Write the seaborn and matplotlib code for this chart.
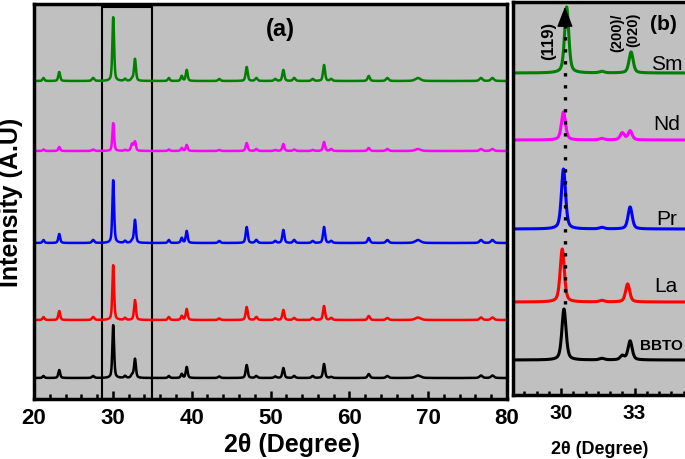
import numpy as np
import pandas as pd
import matplotlib.pyplot as plt
import seaborn as sns

# Samples, bottom to top.
samples = ["BBTO", "La", "Pr", "Nd", "Sm"]
colors = ["black", "red", "blue", "magenta", "green"]

# Vertical offsets of each stacked pattern.
offset_full = [21, 79, 156, 248, 318]
offset_zoom = [35, 93, 166, 255, 322]

# Panel (a): reflections (2theta, HWHM).
peak_pos = [21.2, 23.2, 27.5, 30.05, 31.55, 32.45, 32.81, 37.1, 38.74, 39.37,
            43.5, 46.98, 48.2, 50.6, 51.63, 53.0, 55.35, 56.79, 57.7, 62.46,
            64.82, 68.7, 76.7, 78.15]
peak_hwhm = [0.14, 0.14, 0.17, 0.13, 0.14, 0.17, 0.14, 0.14, 0.14, 0.14,
             0.17, 0.15, 0.17, 0.17, 0.15, 0.17, 0.17, 0.15, 0.17, 0.17,
             0.2, 0.4, 0.22, 0.22]
heights_full = {
    "BBTO": [2, 8, 2, 53, 2, 3, 19, 2, 4, 11, 1.5, 13, 2, 1.5, 10, 2, 2, 14,
             1, 4, 2, 2.5, 2.5, 2.5],
    "La": [3, 9, 3, 55, 2, 0, 20, 3, 4, 11, 1.5, 13, 3, 1.5, 10, 2, 2, 14,
           2, 4, 2, 2.5, 2.5, 2.5],
    "Pr": [3, 9, 3, 63, 2, 2, 23, 3, 5, 12, 2, 16, 3, 2, 13, 3, 2, 16,
           2, 5, 3, 3, 3, 3],
    "Nd": [1.5, 4, 1.5, 28, 1, 7, 9, 1.5, 3, 6, 1, 8, 2, 1, 7, 1.5, 1, 9,
           2, 3, 2, 2, 2, 2],
    "Sm": [3, 9, 3, 64, 2, 2, 22, 3, 5, 11, 2, 14, 3, 2, 11, 3, 2, 16,
           2, 5, 3, 3, 3, 3],
}

# Panel (b): the 28-35 degree window.
main_pos = [30.12, 30.05, 30.1, 30.1, 30.23]
main_h = [51, 53, 60, 28, 66]
second_pos = [32.82, 32.72, 32.82, 32.82, 32.86]
second_h = [19, 18, 22, 9, 21]
shoulder_pos = 32.5
shoulder_h = [4, 0, 0, 7, 0]
bump_pos = 31.67
bump_h = [1.5, 1.5, 1.5, 1.5, 1.5]

label_y = [50, 110, 176, 272, 332]


def profile(x, pos, height, hwhm):
    """Pseudo-Voigt sum of the read-off reflections."""
    y = np.zeros_like(x)
    for p, h, w in zip(pos, height, hwhm):
        d = (x - p) / w
        y += h * (0.5 / (1 + d ** 2) + 0.5 * np.exp(-np.log(2) * d ** 2))
    return y


x_full = np.arange(20, 80.001, 0.02)
x_zoom = np.arange(28.0, 35.5, 0.005)

rows_full, rows_zoom = [], []
for i, s in enumerate(samples):
    y = offset_full[i] + profile(x_full, peak_pos, heights_full[s], peak_hwhm)
    rows_full.append(pd.DataFrame({"two_theta": x_full, "intensity": y,
                                   "sample": s}))
    y = offset_zoom[i] + profile(
        x_zoom,
        [main_pos[i], shoulder_pos, second_pos[i], bump_pos],
        [main_h[i], shoulder_h[i], second_h[i], bump_h[i]],
        [0.1, 0.1, 0.1, 0.12],
    )
    rows_zoom.append(pd.DataFrame({"two_theta": x_zoom, "intensity": y,
                                   "sample": s}))
df_full = pd.concat(rows_full, ignore_index=True)
df_zoom = pd.concat(rows_zoom, ignore_index=True)

sns.set_theme(style="ticks", rc={"text.color": "black",
                                 "axes.labelcolor": "black",
                                 "xtick.color": "black",
                                 "ytick.color": "black"})
plt.rcParams["font.family"] = ["Liberation Sans", "DejaVu Sans"]

palette = dict(zip(samples, colors))
fig = plt.figure(figsize=(6.85, 4.6), dpi=100)
ax = fig.add_axes([34 / 685, 60 / 460, 473 / 685, 395 / 460])
ax2 = fig.add_axes([513 / 685, 64 / 460, 178 / 685, 393 / 460])

for axis in (ax, ax2):
    axis.set_facecolor("#C0C0C0")
    for sp in axis.spines.values():
        sp.set_linewidth(2.5)
        sp.set_color("black")

# Panel (a)
sns.lineplot(data=df_full, x="two_theta", y="intensity", hue="sample",
             palette=palette, estimator=None, sort=False, legend=False,
             linewidth=1.8, ax=ax)
ax.set_xlim(20, 80)
ax.set_ylim(0, 395)
ax.set_xticks(range(20, 81, 10))
ax.set_xticks(range(20, 81, 2), minor=True)
ax.set_yticks([])
ax.tick_params(axis="x", which="both", direction="in", width=1.8,
               labelsize=16, pad=6, colors="black")
ax.tick_params(axis="x", which="major", length=5.5)
ax.tick_params(axis="x", which="minor", length=3.5)
for lab in ax.get_xticklabels():
    lab.set_fontweight("bold")
ax.axvspan(28.6, 34.93, ymin=0, ymax=0.992, fill=False, edgecolor="black",
           linewidth=1.5)
ax.text(51.2, 370, "(a)", fontsize=17, fontweight="bold",
        ha="center", va="center")
ax.set_xlabel("2θ (Degree)", fontsize=18, fontweight="bold")
ax.xaxis.set_label_coords(0.545, -0.083)
ax.set_ylabel("Intensity (A.U)", fontsize=18, fontweight="bold")
ax.yaxis.set_label_coords(-0.023, 0.5)

# Panel (b)
sns.lineplot(data=df_zoom, x="two_theta", y="intensity", hue="sample",
             palette=palette, estimator=None, sort=False, legend=False,
             linewidth=2.2, ax=ax2)
ax2.set_xlim(28.04, 28.04 + 178 / 24.5)
ax2.set_ylim(0, 393)
ax2.set_xticks([30, 33])
ax2.set_xticks(np.arange(28.5, 35.5, 0.5), minor=True)
ax2.set_yticks([])
ax2.set_ylabel("")
ax2.tick_params(axis="x", which="both", direction="in", width=1.8,
                labelsize=15, pad=6, colors="black")
ax2.tick_params(axis="x", which="major", length=5)
ax2.tick_params(axis="x", which="minor", length=3)
for lab in ax2.get_xticklabels():
    lab.set_fontweight("bold")
ax2.spines["right"].set_visible(False)
ax2.set_xlabel("2θ (Degree)", fontsize=13, fontweight="bold")
ax2.xaxis.set_label_coords(0.489, -0.114)

# Dotted guide with arrow head over the (119) reflection.
ax2.plot([30.16, 30.16], [91, 372], color="black", linewidth=2.4,
         linestyle=(0, (1, 2.6)))
ax2.annotate("", xy=(30.16, 391), xytext=(30.16, 372),
             arrowprops=dict(arrowstyle="-|>,head_length=0.9,head_width=0.35",
                             color="black", lw=1, mutation_scale=14))

for i, s in enumerate(samples):
    if s == "BBTO":
        ax2.text(33.22, label_y[i], s, fontsize=11, fontweight="bold",
                 ha="left", va="center")
    else:
        ax2.text(34.3, label_y[i], s, fontsize=15, ha="center", va="center")

ax2.text(29.51, 355, "(119)", fontsize=12, fontweight="bold", rotation=90,
         ha="center", va="center")
ax2.text(32.61, 383, "(200)/\n(020)", fontsize=10.5, fontweight="bold",
         rotation=90, ha="center", va="top", multialignment="right",
         linespacing=1.15)
ax2.text(34.2, 372, "(b)", fontsize=15, fontweight="bold",
         ha="center", va="center")

fig.savefig("out.png", dpi=100)
plt.close(fig)
